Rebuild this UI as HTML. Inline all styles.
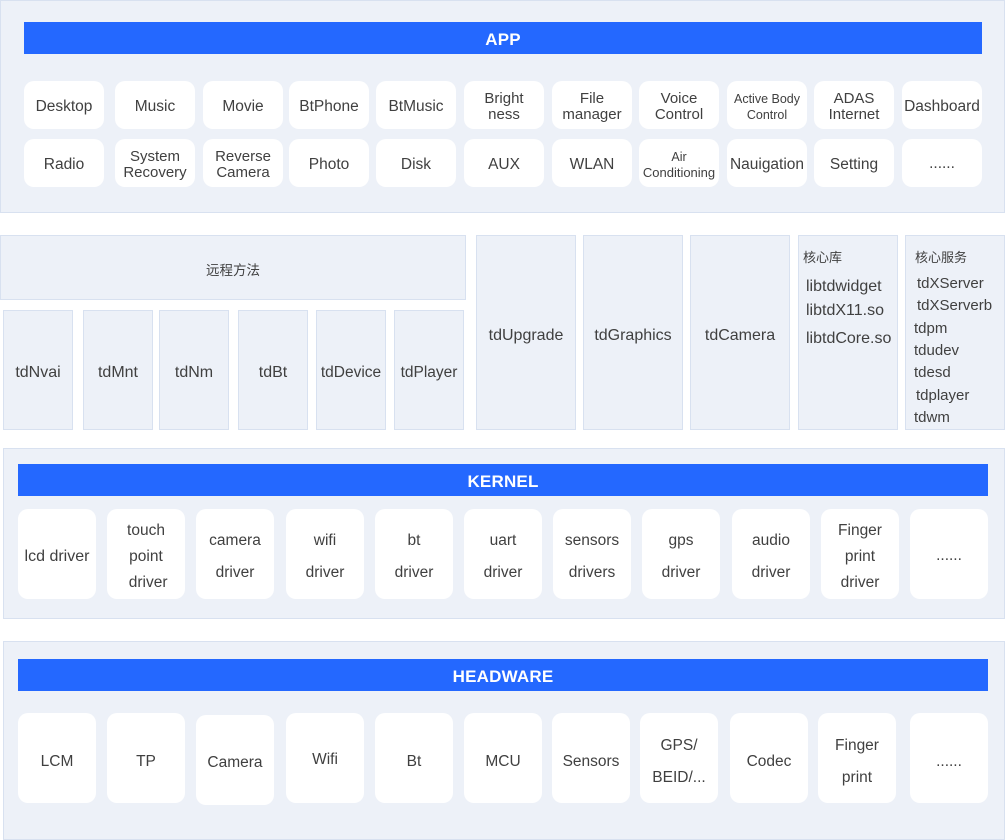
<!DOCTYPE html>
<html>
<head>
<meta charset="utf-8">
<style>
*{box-sizing:border-box;margin:0;padding:0}
html,body{width:1005px;height:840px;background:#fff;overflow:hidden}
body{position:relative;font-family:"Liberation Sans","Noto Sans CJK SC",sans-serif;color:#404040}
.panel{position:absolute;background:#edf1f8;border:1px solid #d8e1f0}
.bar{position:absolute;background:#2468ff;color:#fff;font-weight:bold;font-size:17px;display:flex;align-items:center;justify-content:center;letter-spacing:0.2px;padding-top:3px}
.btn{position:absolute;background:#fff;border-radius:10px;display:flex;flex-direction:column;align-items:center;justify-content:center;text-align:center;font-size:15.5px;white-space:nowrap}
.box{position:absolute;background:#edf1f8;border:1px solid #d8e1f0;display:flex;align-items:center;justify-content:center;font-size:16px;white-space:nowrap}
.t{position:absolute;white-space:nowrap}
.a{padding-top:4px}
</style>
</head>
<body>

<!-- APP -->
<div class="panel" style="left:0;top:0;width:1005px;height:213px"></div>
<div class="bar" style="left:24px;top:22px;width:958px;height:32px">APP</div>

<div class="btn a" style="left:24px;top:81px;width:80px;height:48px">Desktop</div>
<div class="btn a" style="left:115px;top:81px;width:80px;height:48px">Music</div>
<div class="btn a" style="left:203px;top:81px;width:80px;height:48px">Movie</div>
<div class="btn a" style="left:289px;top:81px;width:80px;height:48px">BtPhone</div>
<div class="btn a" style="left:376px;top:81px;width:80px;height:48px">BtMusic</div>
<div class="btn a" style="left:464px;top:81px;width:80px;height:48px;line-height:16px;font-size:15px">Bright<br>ness</div>
<div class="btn a" style="left:552px;top:81px;width:80px;height:48px;line-height:16px;font-size:15px">File<br>manager</div>
<div class="btn a" style="left:639px;top:81px;width:80px;height:48px;line-height:16px;font-size:15px">Voice<br>Control</div>
<div class="btn a" style="left:727px;top:81px;width:80px;height:48px;line-height:16px;font-size:12.5px">Active Body<br>Control</div>
<div class="btn a" style="left:814px;top:81px;width:80px;height:48px;line-height:16px;font-size:15px">ADAS<br>Internet</div>
<div class="btn a" style="left:902px;top:81px;width:80px;height:48px">Dashboard</div>

<div class="btn a" style="left:24px;top:139px;width:80px;height:48px">Radio</div>
<div class="btn a" style="left:115px;top:139px;width:80px;height:48px;line-height:16px;font-size:15px">System<br>Recovery</div>
<div class="btn a" style="left:203px;top:139px;width:80px;height:48px;line-height:16px;font-size:15px">Reverse<br>Camera</div>
<div class="btn a" style="left:289px;top:139px;width:80px;height:48px">Photo</div>
<div class="btn a" style="left:376px;top:139px;width:80px;height:48px">Disk</div>
<div class="btn a" style="left:464px;top:139px;width:80px;height:48px">AUX</div>
<div class="btn a" style="left:552px;top:139px;width:80px;height:48px">WLAN</div>
<div class="btn a" style="left:639px;top:139px;width:80px;height:48px;line-height:15px;font-size:13px"><span style="font-size:12.5px">Air</span><span>Conditioning</span></div>
<div class="btn a" style="left:727px;top:139px;width:80px;height:48px">Nauigation</div>
<div class="btn a" style="left:814px;top:139px;width:80px;height:48px">Setting</div>
<div class="btn" style="left:902px;top:139px;width:80px;height:48px;padding-top:1px">......</div>

<!-- Middle -->
<div class="box" style="left:0;top:235px;width:466px;height:65px;font-size:13.5px;padding-top:3px">远程方法</div>
<div class="box" style="left:3px;top:310px;width:70px;height:120px;padding-top:5px">tdNvai</div>
<div class="box" style="left:83px;top:310px;width:70px;height:120px;padding-top:5px">tdMnt</div>
<div class="box" style="left:159px;top:310px;width:70px;height:120px;padding-top:5px">tdNm</div>
<div class="box" style="left:238px;top:310px;width:70px;height:120px;padding-top:5px">tdBt</div>
<div class="box" style="left:316px;top:310px;width:70px;height:120px;padding-top:5px;font-size:15.5px">tdDevice</div>
<div class="box" style="left:394px;top:310px;width:70px;height:120px;padding-top:5px;font-size:15.5px">tdPlayer</div>

<div class="box" style="left:476px;top:235px;width:100px;height:195px;padding-top:7px">tdUpgrade</div>
<div class="box" style="left:583px;top:235px;width:100px;height:195px;padding-top:7px">tdGraphics</div>
<div class="box" style="left:690px;top:235px;width:100px;height:195px;padding-top:7px">tdCamera</div>
<div class="box" style="left:798px;top:235px;width:100px;height:195px"></div>
<div class="box" style="left:905px;top:235px;width:100px;height:195px"></div>

<div class="t" style="left:803px;top:249px;line-height:18px;font-size:13px">核心库</div>
<div class="t" style="left:806px;top:277px;line-height:20px;font-size:16px">libtdwidget</div>
<div class="t" style="left:806px;top:301px;line-height:20px;font-size:16px">libtdX11.so</div>
<div class="t" style="left:806px;top:329px;line-height:20px;font-size:16px">libtdCore.so</div>

<div class="t" style="left:915px;top:249px;line-height:18px;font-size:13px">核心服务</div>
<div class="t" style="left:917px;top:274px;line-height:20px;font-size:15px">tdXServer</div>
<div class="t" style="left:917px;top:296px;line-height:20px;font-size:15px">tdXServerb</div>
<div class="t" style="left:914px;top:319px;line-height:20px;font-size:15px">tdpm</div>
<div class="t" style="left:914px;top:341px;line-height:20px;font-size:15px">tdudev</div>
<div class="t" style="left:914px;top:363px;line-height:20px;font-size:15px">tdesd</div>
<div class="t" style="left:916px;top:386px;line-height:20px;font-size:15px">tdplayer</div>
<div class="t" style="left:914px;top:408px;line-height:20px;font-size:15px">tdwm</div>

<!-- KERNEL -->
<div class="panel" style="left:3px;top:448px;width:1002px;height:171px"></div>
<div class="bar" style="left:18px;top:464px;width:970px;height:32px">KERNEL</div>

<div class="btn" style="left:18px;top:509px;width:78px;height:90px;font-size:16px;padding-top:6px">lcd driver</div>
<div class="btn" style="left:107px;top:509px;width:78px;height:90px;line-height:26px;padding-top:5px">touch<br>point<br>&nbsp;driver</div>
<div class="btn" style="left:196px;top:509px;width:78px;height:90px;line-height:32px;padding-top:5px">camera<br>driver</div>
<div class="btn" style="left:286px;top:509px;width:78px;height:90px;line-height:32px;padding-top:5px">wifi<br>driver</div>
<div class="btn" style="left:375px;top:509px;width:78px;height:90px;line-height:32px;padding-top:5px">bt<br>driver</div>
<div class="btn" style="left:464px;top:509px;width:78px;height:90px;line-height:32px;padding-top:5px">uart<br>driver</div>
<div class="btn" style="left:553px;top:509px;width:78px;height:90px;line-height:32px;padding-top:5px">sensors<br>drivers</div>
<div class="btn" style="left:642px;top:509px;width:78px;height:90px;line-height:32px;padding-top:5px">gps<br>driver</div>
<div class="btn" style="left:732px;top:509px;width:78px;height:90px;line-height:32px;padding-top:5px">audio<br>driver</div>
<div class="btn" style="left:821px;top:509px;width:78px;height:90px;line-height:26px;padding-top:5px">Finger<br>print<br>driver</div>
<div class="btn" style="left:910px;top:509px;width:78px;height:90px;padding-top:4px">......</div>

<!-- HEADWARE -->
<div class="panel" style="left:3px;top:641px;width:1002px;height:199px"></div>
<div class="bar" style="left:18px;top:659px;width:970px;height:32px">HEADWARE</div>

<div class="btn" style="left:18px;top:713px;width:78px;height:90px;padding-top:7px">LCM</div>
<div class="btn" style="left:107px;top:713px;width:78px;height:90px;padding-top:7px">TP</div>
<div class="btn" style="left:196px;top:715px;width:78px;height:90px;padding-top:5px">Camera</div>
<div class="btn" style="left:286px;top:713px;width:78px;height:90px;padding-top:3px">Wifi</div>
<div class="btn" style="left:375px;top:713px;width:78px;height:90px;padding-top:7px">Bt</div>
<div class="btn" style="left:464px;top:713px;width:78px;height:90px;padding-top:7px">MCU</div>
<div class="btn" style="left:552px;top:713px;width:78px;height:90px;padding-top:7px">Sensors</div>
<div class="btn" style="left:640px;top:713px;width:78px;height:90px;line-height:32px;padding-top:7px">GPS/<br>BEID/...</div>
<div class="btn" style="left:730px;top:713px;width:78px;height:90px;padding-top:7px">Codec</div>
<div class="btn" style="left:818px;top:713px;width:78px;height:90px;line-height:32px;padding-top:7px">Finger<br>print</div>
<div class="btn" style="left:910px;top:713px;width:78px;height:90px;padding-top:8px">......</div>

</body>
</html>
